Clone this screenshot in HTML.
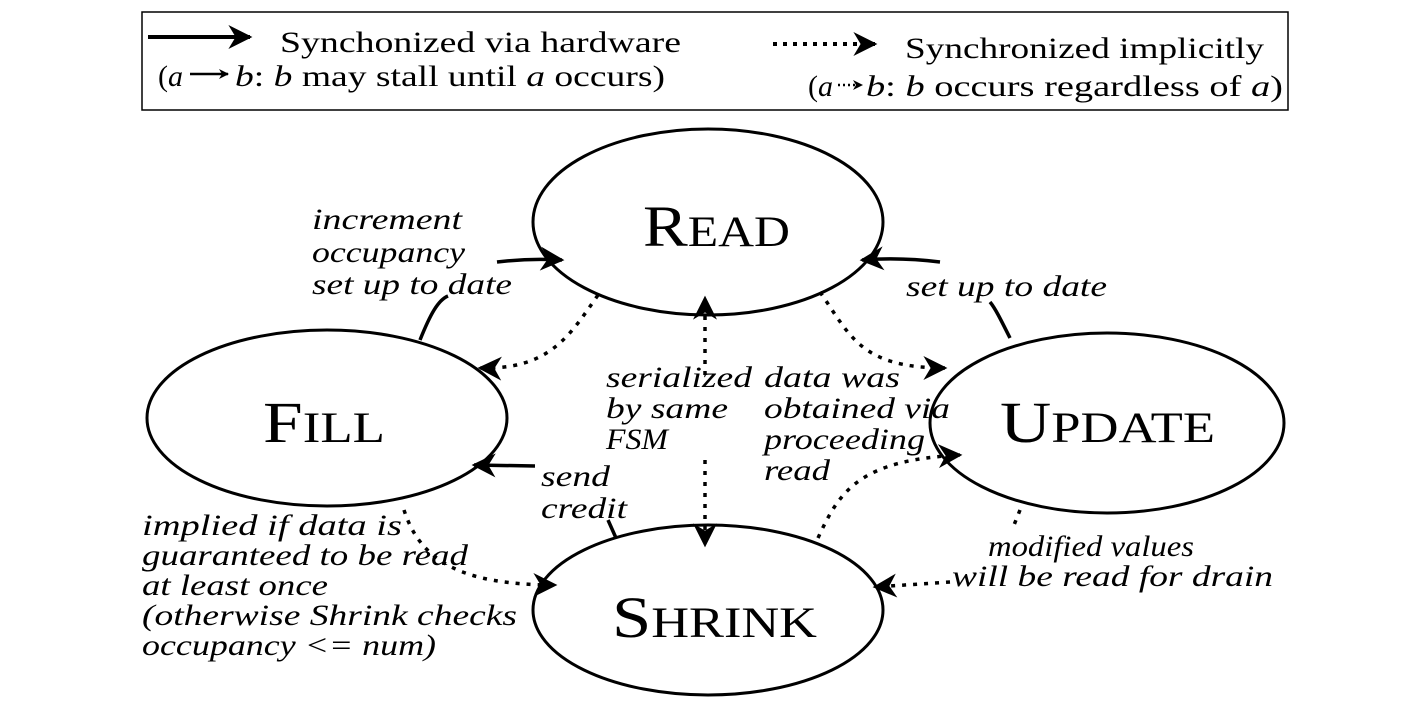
<!DOCTYPE html>
<html><head><meta charset="utf-8"><style>
html,body{margin:0;padding:0;background:#fff;}
svg{display:block;font-family:"Liberation Serif","DejaVu Serif",serif;}
.lab{font-style:italic;font-size:30px;}
.st{font-size:58px;}
</style></head><body>
<svg width="1414" height="720" viewBox="0 0 1414 720">
<defs>
<marker id="ah" viewBox="0 0 10 10" refX="9" refY="5" markerWidth="10" markerHeight="10" markerUnits="userSpaceOnUse" orient="auto"><path d="M0,0 L10,5 L0,10 L3,5 z" fill="#000"/></marker>
<marker id="big" viewBox="0 0 10 10" refX="9" refY="5" markerWidth="30" markerHeight="24" markerUnits="userSpaceOnUse" orient="auto"><path d="M0,0 L10,5 L0,10 L3,5 z" fill="#000"/></marker>
</defs>
<g font-size="30" lengthAdjust="spacingAndGlyphs">
<rect x="142" y="12" width="1146" height="98" fill="#fff" stroke="#000" stroke-width="1.5"/>
<line x1="148" y1="37" x2="250" y2="37" stroke="#000" stroke-width="4" marker-end="url(#big)"/>
<text x="280" y="52" textLength="401" lengthAdjust="spacingAndGlyphs">Synchonized via hardware</text>
<text x="158" y="86">(<tspan font-style="italic">a</tspan></text>
<line x1="190" y1="74" x2="228" y2="74" stroke="#000" stroke-width="2.5" marker-end="url(#ah)"/>
<text x="235" y="86" textLength="430" lengthAdjust="spacingAndGlyphs"><tspan font-style="italic">b</tspan>: <tspan font-style="italic">b</tspan> may stall until <tspan font-style="italic">a</tspan> occurs)</text>
<line x1="773" y1="44" x2="875" y2="44" stroke="#000" stroke-width="4" stroke-dasharray="4,6" marker-end="url(#big)"/>
<text x="905" y="58" textLength="359" lengthAdjust="spacingAndGlyphs">Synchronized implicitly</text>
<text x="808" y="96">(<tspan font-style="italic">a</tspan></text>
<line x1="838" y1="85" x2="862" y2="85" stroke="#000" stroke-width="2.5" stroke-dasharray="2,3" marker-end="url(#ah)"/>
<text x="866" y="96" textLength="417" lengthAdjust="spacingAndGlyphs"><tspan font-style="italic">b</tspan>: <tspan font-style="italic">b</tspan> occurs regardless of <tspan font-style="italic">a</tspan>)</text>
</g>
<g fill="#fff" stroke="#000" stroke-width="3">
<ellipse cx="708" cy="222" rx="175" ry="93"/>
<ellipse cx="327" cy="418" rx="180" ry="88"/>
<ellipse cx="1107" cy="423" rx="177" ry="90"/>
<ellipse cx="708" cy="610" rx="175" ry="85"/>
</g>
<text class="st" x="643" y="246" textLength="147" lengthAdjust="spacingAndGlyphs">R<tspan font-size="43">EAD</tspan></text>
<text class="st" x="263" y="442" textLength="122" lengthAdjust="spacingAndGlyphs">F<tspan font-size="43">ILL</tspan></text>
<text class="st" x="1000" y="442" textLength="215" lengthAdjust="spacingAndGlyphs">U<tspan font-size="43">PDATE</tspan></text>
<text class="st" x="612" y="637" textLength="205" lengthAdjust="spacingAndGlyphs">S<tspan font-size="43">HRINK</tspan></text>
<g fill="none" stroke="#000" stroke-width="3.5">
<path d="M420,340 C430,315 438,300 448,296 M497,262 Q530,258 562,260" marker-end="url(#big)"/>
<path d="M1010,338 C1000,318 995,308 990,302 M940,262 Q900,257 862,260" marker-end="url(#big)"/>
<path d="M616,538 L608,520 M535,466 L474,465" marker-end="url(#big)"/>
<path stroke-dasharray="4,7" d="M598,295 C570,335 550,370 480,368" marker-end="url(#big)"/>
<path stroke-dasharray="4,7" d="M820,292 C850,335 860,368 945,368" marker-end="url(#big)"/>
<path stroke-dasharray="4,7" d="M705,375 L705,298" marker-end="url(#big)"/>
<path stroke-dasharray="4,7" d="M705,460 L705,545" marker-end="url(#big)"/>
<path stroke-dasharray="4,7" d="M818,538 C840,490 860,460 960,455" marker-end="url(#big)"/>
<path stroke-dasharray="4,7" d="M404,510 C420,560 460,585 555,585" marker-end="url(#big)"/>
<path stroke-dasharray="4,7" d="M1020,510 L1012,530 M950,582 L875,587" marker-end="url(#big)"/>
</g>
<g class="lab">
<g>
<text x="312" y="229" textLength="150" lengthAdjust="spacingAndGlyphs">increment</text>
<text x="312" y="262" textLength="153" lengthAdjust="spacingAndGlyphs">occupancy</text>
<text x="312" y="294" textLength="200" lengthAdjust="spacingAndGlyphs">set up to date</text></g>
<text x="906" y="296" textLength="201" lengthAdjust="spacingAndGlyphs">set up to date</text>
<g>
<text x="606" y="387" textLength="146" lengthAdjust="spacingAndGlyphs">serialized</text>
<text x="606" y="418" textLength="122" lengthAdjust="spacingAndGlyphs">by same</text>
<text x="606" y="449" textLength="62" lengthAdjust="spacingAndGlyphs">FSM</text></g>
<g>
<text x="764" y="387" textLength="136" lengthAdjust="spacingAndGlyphs">data was</text>
<text x="764" y="418" textLength="186" lengthAdjust="spacingAndGlyphs">obtained via</text>
<text x="764" y="449" textLength="161" lengthAdjust="spacingAndGlyphs">proceeding</text>
<text x="764" y="480" textLength="66" lengthAdjust="spacingAndGlyphs">read</text></g>
<g>
<text x="541" y="486" textLength="69" lengthAdjust="spacingAndGlyphs">send</text>
<text x="541" y="518" textLength="86" lengthAdjust="spacingAndGlyphs">credit</text></g>
<g>
<text x="142" y="535" textLength="260" lengthAdjust="spacingAndGlyphs">implied if data is</text>
<text x="142" y="565" textLength="326" lengthAdjust="spacingAndGlyphs">guaranteed to be read</text>
<text x="142" y="595" textLength="186" lengthAdjust="spacingAndGlyphs">at least once</text>
<text x="142" y="625" textLength="375" lengthAdjust="spacingAndGlyphs">(otherwise Shrink checks</text>
<text x="142" y="655" textLength="294" lengthAdjust="spacingAndGlyphs">occupancy &lt;= num)</text></g>
<g>
<text x="988" y="556" textLength="206" lengthAdjust="spacingAndGlyphs">modified values</text>
<text x="952" y="586" textLength="321" lengthAdjust="spacingAndGlyphs">will be read for drain</text></g>
</g>
</svg>
</body></html>
